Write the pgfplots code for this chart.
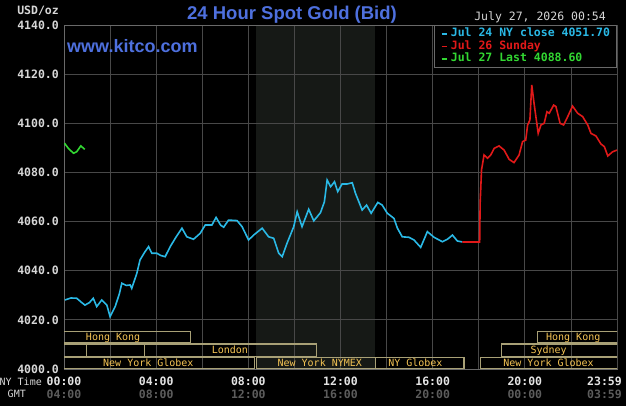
\documentclass[border=0pt]{standalone}
\usepackage{fontspec}
\setmainfont{Liberation Sans}
\newfontfamily\mono{DejaVu Sans Mono}
\usepackage{pgfplots}
\usetikzlibrary{calc}
\pgfplotsset{compat=1.18}
\definecolor{gridgray}{RGB}{72,72,72}
\definecolor{bordergray}{RGB}{105,105,105}
\definecolor{shadecol}{RGB}{22,25,22}
\definecolor{khaki}{RGB}{168,160,118}
\definecolor{sesstext}{RGB}{245,196,84}
\definecolor{titleblue}{RGB}{78,112,222}
\definecolor{cyanc}{RGB}{42,185,230}
\definecolor{redc}{RGB}{225,25,25}
\definecolor{greenc}{RGB}{50,215,50}
\definecolor{tw}{RGB}{228,228,228}
\definecolor{tg}{RGB}{92,92,92}
\definecolor{lg}{RGB}{215,215,215}

\pgfplotstableread{
h v
0.04 4028.1
0.30 4028.9
0.55 4028.8
0.75 4027.2
0.91 4026.0
1.10 4027.0
1.27 4028.8
1.42 4025.4
1.64 4028.1
1.86 4026.0
2.00 4021.3
2.22 4025.4
2.40 4030.5
2.51 4034.9
2.70 4034.0
2.87 4034.2
2.94 4032.8
3.16 4038.9
3.30 4044.4
3.50 4047.5
3.67 4049.8
3.81 4047.1
4.03 4047.1
4.20 4046.2
4.39 4045.7
4.61 4049.8
4.85 4053.5
5.12 4057.3
5.33 4053.8
5.62 4052.8
5.91 4055.2
6.13 4058.6
6.42 4058.6
6.60 4061.7
6.80 4058.5
6.93 4057.7
7.14 4060.6
7.51 4060.4
7.73 4057.9
8.01 4052.5
8.23 4054.5
8.60 4057.3
8.88 4053.8
9.10 4053.2
9.32 4047.1
9.47 4045.7
9.68 4051.2
9.97 4057.9
10.12 4064.0
10.33 4057.9
10.62 4065.0
10.84 4060.3
11.13 4063.6
11.30 4068.0
11.42 4076.9
11.57 4074.2
11.74 4076.2
11.88 4072.2
12.07 4075.3
12.29 4075.3
12.51 4075.8
12.65 4071.5
12.94 4064.7
13.13 4066.7
13.33 4063.4
13.62 4067.8
13.81 4066.7
14.03 4063.4
14.32 4061.3
14.47 4057.3
14.68 4053.8
14.97 4053.6
15.19 4052.5
15.48 4049.5
15.77 4055.9
16.06 4053.6
16.42 4051.8
16.64 4052.8
16.86 4054.5
17.07 4052.1
17.29 4051.7
}\bluedata

\pgfplotstableread{
h v
17.29 4051.7
18.04 4051.7
18.06 4067.4
18.12 4081.0
18.23 4087.1
18.38 4085.8
18.52 4087.1
18.67 4089.8
18.88 4090.8
19.10 4089.1
19.32 4085.3
19.53 4084.0
19.75 4087.1
19.90 4092.5
20.04 4093.2
20.12 4099.3
20.22 4101.3
20.30 4115.6
20.40 4108.1
20.58 4095.9
20.70 4099.3
20.84 4100.0
20.96 4104.7
21.06 4104.1
21.25 4107.4
21.35 4106.8
21.53 4100.0
21.68 4099.3
21.86 4102.7
22.07 4107.0
22.29 4104.1
22.51 4102.7
22.73 4099.3
22.87 4095.9
23.09 4094.8
23.30 4091.6
23.45 4090.5
23.60 4086.7
23.81 4088.4
24.00 4089.1
}\reddata

\pgfplotstableread{
h v
0.02 4091.9
0.19 4089.8
0.41 4087.8
0.55 4088.4
0.73 4090.8
0.90 4089.4
}\greendata

\begin{document}
\begin{tikzpicture}[x=1pt,y=1pt]
\fill[black] (0,0) rectangle (626,406);
\begin{axis}[
  at={(64pt,37pt)}, anchor=south west,
  scale only axis, width=553pt, height=344pt,
  xmin=0, xmax=24, ymin=4000, ymax=4140,
  axis background/.style={fill=black, path picture={
    \fill[shadecol] ($(path picture bounding box.south west)!0.34722!(path picture bounding box.south east)$)
      rectangle ($(path picture bounding box.north west)!0.5625!(path picture bounding box.north east)$);}},
  axis line style={draw=bordergray, line width=0.8pt},
  no marks,
  xtick={0,4,8,12,16,20},
  minor xtick={2,6,10,14,18,22},
  xticklabels={
    {\textcolor{tw}{00:00}\\\textcolor{tg}{04:00}},
    {\textcolor{tw}{04:00}\\\textcolor{tg}{08:00}},
    {\textcolor{tw}{08:00}\\\textcolor{tg}{12:00}},
    {\textcolor{tw}{12:00}\\\textcolor{tg}{16:00}},
    {\textcolor{tw}{16:00}\\\textcolor{tg}{20:00}},
    {\textcolor{tw}{20:00}\\\textcolor{tg}{00:00}}},
  extra x ticks={24},
  extra x tick labels={{\textcolor{tw}{23:59}\\\textcolor{tg}{03:59}}},
  extra x tick style={xticklabel style={anchor=north east, xshift=5pt}},
  xticklabel style={font=\mono\bfseries\fontsize{11.5}{13}\selectfont, align=center, inner sep=0pt, anchor=north, yshift=-8pt},
  ytick={4000,4020,4040,4060,4080,4100,4120,4140},
  yticklabels={4000.0,4020.0,4040.0,4060.0,4080.0,4100.0,4120.0,4140.0},
  yticklabel style={font=\mono\bfseries\fontsize{11.5}{13}\selectfont, text=lg, inner sep=0pt, anchor=east, xshift=-5pt},
  major tick length=0pt, minor tick length=0pt,
  xmajorgrids, xminorgrids, ymajorgrids,
  major grid style={draw=gridgray, line width=0.8pt},
  minor grid style={draw=gridgray, line width=0.8pt},
  legend cell align=left,
  legend image code/.code={\draw[#1, line width=1.6pt] (0pt,0pt) -- (5pt,0pt); \path (8pt,0pt);},
  legend style={at={(1,1)}, anchor=north east, draw=bordergray, fill=black, line width=0.8pt,
    font=\mono\bfseries\fontsize{11.5}{12}\selectfont,
    inner xsep=6pt, inner ysep=2pt, row sep=0pt,
    nodes={inner sep=0.5pt, text height=8.5pt, text depth=3.2pt}},
]
% session boxes
\begin{scope}[khaki, line width=1.3pt]
\draw (axis cs:-1,4010.6) rectangle (axis cs:5.5,4015.4);
\draw (axis cs:20.55,4010.6) rectangle (axis cs:25,4015.4);
\draw (axis cs:-1,4005.2) rectangle (axis cs:0.99,4010.2);
\draw (axis cs:0.99,4005.2) rectangle (axis cs:3.5,4010.2);
\draw (axis cs:3.5,4005.2) rectangle (axis cs:10.97,4010.2);
\draw (axis cs:19.0,4005.2) rectangle (axis cs:25,4010.2);
\draw (axis cs:-1,4000) rectangle (axis cs:8.28,4004.8);
\draw (axis cs:8.36,4000) rectangle (axis cs:13.52,4004.8);
\draw (axis cs:13.52,4000) rectangle (axis cs:17.36,4004.8);
\draw (axis cs:18.09,4000) rectangle (axis cs:25,4004.8);
\end{scope}
\begin{scope}[every node/.style={text=sesstext, font=\mono\fontsize{10}{12}\selectfont, anchor=base, inner sep=0pt}]
\node at (axis cs:2.13,4011.6) {Hong Kong};
\node at (axis cs:22.1,4011.6) {Hong Kong};
\node at (axis cs:7.2,4006.4) {London};
\node at (axis cs:21.03,4006.4) {Sydney};
\node at (axis cs:3.66,4001.1) {New York Globex};
\node at (axis cs:11.1,4001.1) {New York NYMEX};
\node at (axis cs:15.25,4001.1) {NY Globex};
\node at (axis cs:21.03,4001.1) {New York Globex};
\end{scope}

\addplot[cyanc, line width=1.6pt] table[x=h, y=v] {\bluedata};
\addlegendentry{\textcolor{cyanc}{Jul 24 NY close 4051.70}}
\addplot[redc, line width=1.6pt] table[x=h, y=v] {\reddata};
\addlegendentry{\textcolor{redc}{Jul 26 Sunday}}
\addplot[greenc, line width=1.6pt] table[x=h, y=v] {\greendata};
\addlegendentry{\textcolor{greenc}{Jul 27 Last 4088.60}}
\end{axis}

\node[anchor=base, text=titleblue, font=\bfseries\fontsize{18.5}{20}\selectfont, inner sep=0pt] at (292,386) {24 Hour Spot Gold (Bid)};
\node[anchor=base west, text=titleblue, font=\bfseries\fontsize{18}{20}\selectfont, inner sep=0pt] at (67,353) {www.kitco.com};
\node[anchor=base east, text=lg, font=\mono\fontsize{11.5}{13}\selectfont, inner sep=0pt] at (606,385.3) {July 27, 2026 00:54};
\node[anchor=base east, text=lg, font=\mono\bfseries\fontsize{11.5}{13}\selectfont, inner sep=0pt] at (59,391) {USD/oz};
\node[anchor=base east, text=lg, font=\mono\fontsize{10}{12}\selectfont, inner sep=0pt] at (42,20.3) {NY Time};
\node[anchor=base east, text=lg, font=\mono\fontsize{10}{12}\selectfont, inner sep=0pt] at (26,8.3) {GMT};
\pgfresetboundingbox
\path[use as bounding box] (0,0) rectangle (626,406);
\end{tikzpicture}
\end{document}
